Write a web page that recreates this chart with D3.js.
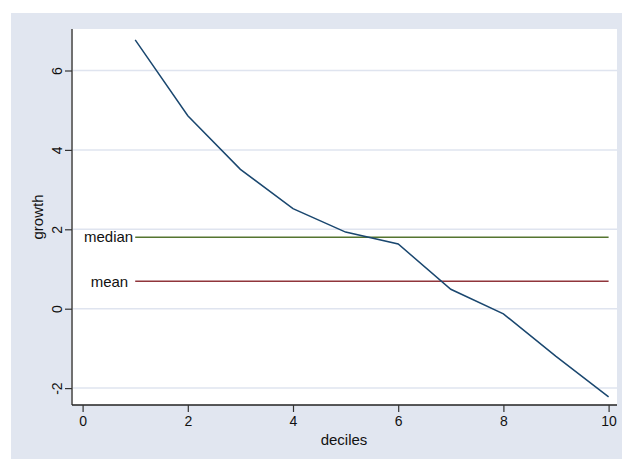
<!DOCTYPE html>
<html>
<head>
<meta charset="utf-8">
<script src="https://cdn.jsdelivr.net/npm/d3@7"></script>
<style>
  body { margin: 0; background: #fff; }
  text { font-family: "Liberation Sans", Arial, sans-serif; fill: #111; }
</style>
</head>
<body>
<svg id="drawing_region"></svg>
<script>
// deciles and growth values
const deciles = [1, 2, 3, 4, 5, 6, 7, 8, 9, 10];
const growth = [6.77, 4.86, 3.51, 2.52, 1.93, 1.63, 0.49, -0.13, -1.2, -2.22];
const medianValue = 1.80;
const meanValue = 0.69;
const xTicks = [0, 2, 4, 6, 8, 10];
const yTicks = [-2, 0, 2, 4, 6];

let config = {
  parent: '#drawing_region',
  width: 622,
  height: 459,
};

class LineChart {

  constructor( config ) {
    this.config = config;
    this.init();
  }

  init() {
    let self = this;

    self.svg = d3.select( self.config.parent )
      .attr('width', self.config.width)
      .attr('height', self.config.height);

    // plot region edges
    self.left = 72;
    self.right = 617;
    self.top = 29;
    self.bottom = 405;

    self.x = d3.scaleLinear()
      .domain([0, 10])
      .range([82.6, 608.6]);

    self.y = d3.scaleLinear()
      .domain([-2, 6])
      .range([388.1, 70.5]);
  }

  render() {
    let self = this;
    const svg = self.svg;
    const fmt = d => String(d);   // plain hyphen for negatives, like Stata

    // graph region
    svg.append('rect')
      .attr('x', 11).attr('y', 13)
      .attr('width', self.config.width - 11)
      .attr('height', self.config.height - 13)
      .attr('fill', '#e1e6f0');

    // plot region
    svg.append('rect')
      .attr('x', self.left).attr('y', self.top)
      .attr('width', self.right - self.left)
      .attr('height', self.bottom - self.top)
      .attr('fill', '#ffffff');

    // grid lines
    svg.selectAll('.grid')
      .data(yTicks)
      .enter()
      .append('line')
      .attr('x1', self.left)
      .attr('x2', self.right)
      .attr('y1', d => self.y(d))
      .attr('y2', d => self.y(d))
      .attr('stroke', '#dfe4ef')
      .attr('stroke-width', 1.5);

    // y axis
    const yAxis = svg.append('g')
      .attr('transform', `translate(${self.left},0)`)
      .call(d3.axisLeft(self.y).tickValues(yTicks).tickSize(7).tickSizeOuter(0).tickFormat(fmt));
    yAxis.select('.domain')
      .attr('d', `M0,${self.top}V${self.bottom}`)
      .attr('stroke', '#707070')
      .attr('stroke-width', 2);
    yAxis.selectAll('.tick line').attr('stroke', '#333').attr('stroke-width', 1.2);
    yAxis.selectAll('.tick text')
      .attr('x', null).attr('dy', '0.35em')
      .attr('transform', 'translate(-15,0) rotate(-90)')
      .attr('text-anchor', 'middle')
      .style('font-size', '14px')
      .style('font-family', '"Liberation Sans", Arial, sans-serif')
      .attr('fill', '#111');

    // x axis
    const xAxis = svg.append('g')
      .attr('transform', `translate(0,${self.bottom})`)
      .call(d3.axisBottom(self.x).tickValues(xTicks).tickSize(7).tickSizeOuter(0).tickFormat(fmt));
    xAxis.select('.domain')
      .attr('d', `M${self.left},0H${self.right}`)
      .attr('stroke', '#222')
      .attr('stroke-width', 1.5);
    xAxis.selectAll('.tick line').attr('stroke', '#333').attr('stroke-width', 1.2);
    xAxis.selectAll('.tick text')
      .attr('y', 11)
      .style('font-size', '14px')
      .style('font-family', '"Liberation Sans", Arial, sans-serif')
      .attr('fill', '#111');

    // axis titles
    svg.append('text')
      .attr('x', (self.left + self.right) / 2 - 0.5)
      .attr('y', 445)
      .attr('text-anchor', 'middle')
      .style('font-size', '15px')
      .text('deciles');

    svg.append('text')
      .attr('transform', `translate(38,${(self.top + self.bottom) / 2}) rotate(-90)`)
      .attr('dy', '0.35em')
      .attr('text-anchor', 'middle')
      .style('font-size', '15px')
      .text('growth');

    // reference lines
    const refs = [
      { label: 'median', value: medianValue, color: '#55752f', gap: 2 },
      { label: 'mean', value: meanValue, color: '#90353b', gap: 7 },
    ];

    svg.selectAll('.ref')
      .data(refs)
      .enter()
      .append('line')
      .attr('x1', self.x(deciles[0]))
      .attr('x2', self.x(deciles[deciles.length - 1]))
      .attr('y1', d => self.y(d.value))
      .attr('y2', d => self.y(d.value))
      .attr('stroke', d => d.color)
      .attr('stroke-width', 1.5);

    svg.selectAll('.reflabel')
      .data(refs)
      .enter()
      .append('text')
      .attr('x', d => self.x(deciles[0]) - d.gap)
      .attr('y', d => self.y(d.value))
      .attr('dy', '0.35em')
      .attr('text-anchor', 'end')
      .style('font-size', '15px')
      .text(d => d.label);

    // growth line
    const line = d3.line()
      .x((d, i) => self.x(deciles[i]))
      .y(d => self.y(d));

    svg.append('path')
      .datum(growth)
      .attr('d', line)
      .attr('fill', 'none')
      .attr('stroke', '#1a476f')
      .attr('stroke-width', 1.5);
  }
}

const chart = new LineChart( config );
chart.render();
</script>
</body>
</html>
